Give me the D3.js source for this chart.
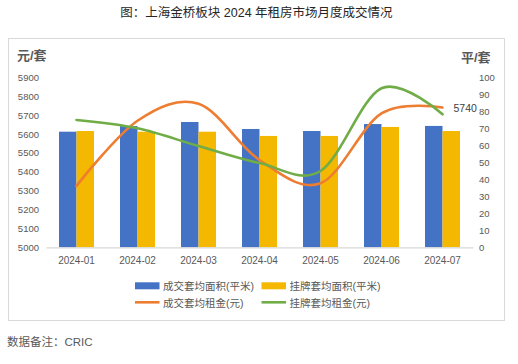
<!DOCTYPE html>
<html>
<head>
<meta charset="utf-8">
<script src="https://cdn.jsdelivr.net/npm/d3@7"></script>
<style>
  body { margin: 0; background: #fff; }
  svg { display: block; font-family: "Liberation Sans", "Noto Sans CJK SC", sans-serif; }
</style>
</head>
<body>
<svg id="chart"></svg>
<script>
// data
let months = ["2024-01", "2024-02", "2024-03", "2024-04", "2024-05", "2024-06", "2024-07"];
let dealArea = [68.0, 71.3, 73.7, 69.6, 68.4, 72.5, 71.4];   // 成交套均面积(平米)
let listArea = [68.4, 68.0, 68.0, 65.5, 65.5, 70.8, 68.4];   // 挂牌套均面积(平米)
let dealRent = [5325, 5670, 5760, 5462, 5339, 5709, 5740];   // 成交套均租金(元)
let listRent = [5674, 5630, 5536, 5446, 5404, 5842, 5704];   // 挂牌套均租金(元)
let leftTicks = [5000, 5100, 5200, 5300, 5400, 5500, 5600, 5700, 5800, 5900];
let rightTicks = [0, 10, 20, 30, 40, 50, 60, 70, 80, 90, 100];

let width = 518;
let height = 364;
let blue = "#4472C4", gold = "#F5B800", orange = "#ED7D31", green = "#70AD47";
let textColor = "#595959";

let chart = d3.select("#chart").attr("width", width).attr("height", height);

// title
chart.append("text")
  .attr("x", 256.5).attr("y", 17)
  .attr("text-anchor", "middle")
  .attr("font-size", 12.5)
  .attr("fill", "#262626")
  .text("图：上海金桥板块 2024 年租房市场月度成交情况");

// frame
chart.append("rect")
  .attr("x", 8.5).attr("y", 38.5)
  .attr("width", 496).attr("height", 282)
  .attr("fill", "none").attr("stroke", "#d9d9d9");

// scales
let x = d3.scaleBand().domain(months).range([46, 473]);
let sub = d3.scaleBand().domain(["deal", "list"]).range([0, 35]);
let yLeft = d3.scaleLinear().domain([5000, 5900]).range([247.3, 77.3]);
let yRight = d3.scaleLinear().domain([0, 100]).range([247.3, 77.3]);
let cx = (m) => x(m) + x.bandwidth() / 2;

// axis titles
chart.append("text").attr("x", 17).attr("y", 59.5)
  .attr("font-size", 13).attr("font-weight", "bold").attr("fill", textColor)
  .text("元/套");
chart.append("text").attr("x", 461).attr("y", 61.5)
  .attr("font-size", 13).attr("font-weight", "bold").attr("fill", textColor)
  .text("平/套");

// left axis labels
chart.append("g")
  .attr("transform", "translate(39,0)")
  .call(d3.axisLeft(yLeft).tickValues(leftTicks).tickFormat(d3.format("d")).tickSize(0).tickPadding(0))
  .call((g) => g.select(".domain").remove())
  .call((g) => g.selectAll("text").attr("font-size", 9.5).attr("fill", textColor).attr("font-family", null));

// right axis labels
chart.append("g")
  .attr("transform", "translate(479,0)")
  .call(d3.axisRight(yRight).tickValues(rightTicks).tickFormat(d3.format("d")).tickSize(0).tickPadding(0))
  .call((g) => g.select(".domain").remove())
  .call((g) => g.selectAll("text").attr("font-size", 9.5).attr("fill", textColor).attr("font-family", null));

// bars
let barData = months.map((m, i) => ({ m: m, deal: dealArea[i], list: listArea[i] }));
let groups = chart.selectAll(".grp")
  .data(barData)
  .enter()
  .append("g")
  .attr("class", "grp")
  .attr("transform", (d) => `translate(${cx(d.m) - 17.5},0)`);

groups.append("rect")
  .attr("x", sub("deal")).attr("width", sub.bandwidth())
  .attr("y", (d) => yRight(d.deal))
  .attr("height", (d) => yRight(0) - yRight(d.deal))
  .attr("fill", blue);

groups.append("rect")
  .attr("x", sub("list")).attr("width", sub.bandwidth())
  .attr("y", (d) => yRight(d.list))
  .attr("height", (d) => yRight(0) - yRight(d.list))
  .attr("fill", gold);

// x axis
chart.append("g")
  .attr("transform", `translate(0,${yLeft(5000)})`)
  .call(d3.axisBottom(x).tickSize(0).tickPadding(10))
  .call((g) => g.select(".domain").attr("stroke", "#d9d9d9").attr("stroke-width", 1.2))
  .call((g) => g.selectAll("text").attr("font-size", 10).attr("fill", textColor).attr("font-family", null));

// lines
let line = d3.line()
  .x((d, i) => cx(months[i]))
  .y((d) => yLeft(d))
  .curve(d3.curveCardinal);

chart.append("path")
  .attr("d", line(dealRent))
  .attr("fill", "none").attr("stroke", orange)
  .attr("stroke-width", 2.6).attr("stroke-linecap", "round");

chart.append("path")
  .attr("d", line(listRent))
  .attr("fill", "none").attr("stroke", green)
  .attr("stroke-width", 2.6).attr("stroke-linecap", "round");

// data label on last orange point
chart.append("text")
  .attr("x", cx(months[6]) + 11)
  .attr("y", yLeft(dealRent[6]) + 4)
  .attr("font-size", 10.5).attr("fill", "#404040")
  .text(dealRent[6]);

// legend
let legend = [
  { name: "成交套均面积(平米)", color: blue, type: "bar", x: 135, y: 286 },
  { name: "挂牌套均面积(平米)", color: gold, type: "bar", x: 261.5, y: 286 },
  { name: "成交套均租金(元)", color: orange, type: "line", x: 135, y: 303 },
  { name: "挂牌套均租金(元)", color: green, type: "line", x: 261.5, y: 303 },
];
let lg = chart.selectAll(".lg").data(legend).enter().append("g").attr("class", "lg");
lg.filter((d) => d.type == "bar").append("rect")
  .attr("x", (d) => d.x).attr("y", (d) => d.y - 3.7)
  .attr("width", 24.5).attr("height", 7)
  .attr("fill", (d) => d.color);
lg.filter((d) => d.type == "line").append("line")
  .attr("x1", (d) => d.x).attr("x2", (d) => d.x + 24.5)
  .attr("y1", (d) => d.y - 0.7).attr("y2", (d) => d.y - 0.7)
  .attr("stroke", (d) => d.color).attr("stroke-width", 2.6);
lg.append("text")
  .attr("x", (d) => d.x + 28).attr("y", (d) => d.y + 3.8)
  .attr("font-size", 10.5).attr("fill", textColor)
  .text((d) => d.name);

// source note
chart.append("text")
  .attr("x", 7).attr("y", 345.5)
  .attr("font-size", 11.5).attr("fill", textColor)
  .text("数据备注：CRIC");
</script>
</body>
</html>
